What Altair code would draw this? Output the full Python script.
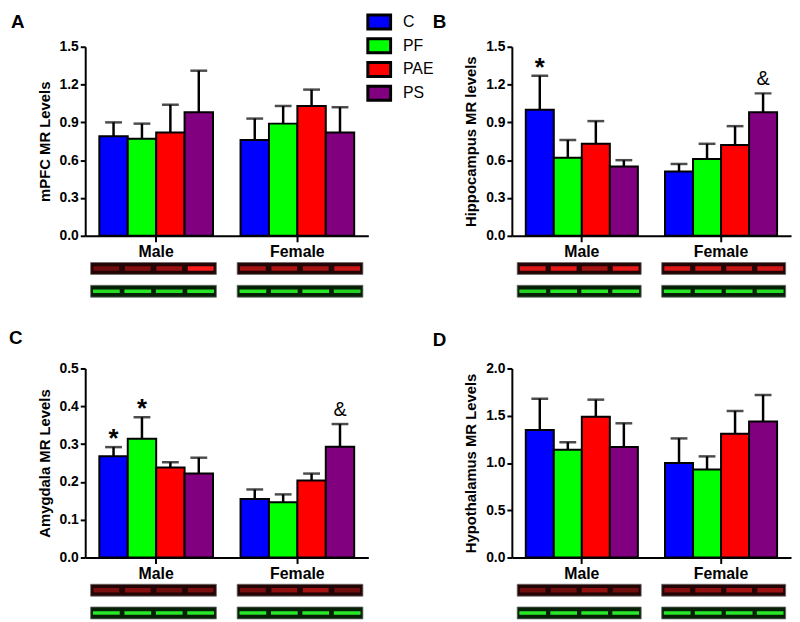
import altair as alt
import pandas as pd

groups = ["C", "PF", "PAE", "PS"]
sexes = ["Male", "Female"]
bar_colors = ["#0000ff", "#00ff00", "#ff0000", "#800080"]
blot_rows = ["MR", "Loading"]
panel_letters = ["A", "B", "C", "D"]

# Panel A: mPFC
a_male = [0.79, 0.77, 0.82, 0.98]
a_male_sem = [0.11, 0.12, 0.22, 0.33]
a_female = [0.76, 0.89, 1.03, 0.82]
a_female_sem = [0.17, 0.14, 0.13, 0.20]
a_marks_male = ["", "", "", ""]
a_marks_female = ["", "", "", ""]
a_ticks = [0.0, 0.3, 0.6, 0.9, 1.2, 1.5]

# Panel B: Hippocampus
b_male = [1.00, 0.62, 0.73, 0.55]
b_male_sem = [0.27, 0.14, 0.18, 0.05]
b_female = [0.51, 0.61, 0.72, 0.98]
b_female_sem = [0.06, 0.12, 0.15, 0.15]
b_marks_male = ["*", "", "", ""]
b_marks_female = ["", "", "", "&"]
b_ticks = [0.0, 0.3, 0.6, 0.9, 1.2, 1.5]

# Panel C: Amygdala
c_male = [0.268, 0.314, 0.238, 0.222]
c_male_sem = [0.024, 0.057, 0.014, 0.042]
c_female = [0.155, 0.146, 0.204, 0.293]
c_female_sem = [0.025, 0.021, 0.018, 0.060]
c_marks_male = ["*", "*", "", ""]
c_marks_female = ["", "", "", "&"]
c_ticks = [0.0, 0.1, 0.2, 0.3, 0.4, 0.5]

# Panel D: Hypothalamus
d_male = [1.35, 1.14, 1.49, 1.17]
d_male_sem = [0.33, 0.08, 0.18, 0.25]
d_female = [1.00, 0.93, 1.31, 1.44]
d_female_sem = [0.26, 0.14, 0.24, 0.28]
d_marks_male = ["", "", "", ""]
d_marks_female = ["", "", "", ""]
d_ticks = [0.0, 0.5, 1.0, 1.5, 2.0]

# Western blot band intensities (MR row, loading-control row)
a_mr_male = [0.35, 0.45, 0.55, 1.0]
a_mr_female = [0.6, 0.65, 0.6, 0.75]
a_ld_male = [0.85, 0.9, 0.85, 0.9]
a_ld_female = [0.9, 0.85, 0.9, 0.8]
b_mr_male = [0.85, 0.9, 0.6, 0.9]
b_mr_female = [0.85, 0.8, 0.75, 0.8]
b_ld_male = [0.8, 0.9, 0.9, 0.9]
b_ld_female = [0.9, 0.9, 0.9, 0.85]
c_mr_male = [0.4, 0.45, 0.35, 0.4]
c_mr_female = [0.4, 0.5, 0.6, 0.35]
c_ld_male = [0.9, 0.9, 0.9, 0.9]
c_ld_female = [0.9, 0.9, 0.9, 0.9]
d_mr_male = [0.35, 0.35, 0.5, 0.35]
d_mr_female = [0.45, 0.5, 0.6, 0.55]
d_ld_male = [0.9, 0.9, 0.9, 0.9]
d_ld_female = [0.9, 0.9, 0.9, 0.9]

FONT = "Arial"


def bar_panel(male, male_sem, female, female_sem, marks_m, marks_f, ticks,
              ytitle, letter, letter_dx, letter_dy, width, legend=None):
    df = pd.DataFrame({
        "sex": ["Male"] * 4 + ["Female"] * 4,
        "group": groups * 2,
        "mean": male + female,
        "upper": [m + s for m, s in zip(male, male_sem)] + [m + s for m, s in zip(female, female_sem)],
        "mark": marks_m + marks_f,
    })
    x = alt.X("sex:N", sort=sexes,
              scale=alt.Scale(domain=sexes, paddingInner=0.195, paddingOuter=0.1),
              axis=alt.Axis(title=None, labelAngle=0, labelFontSize=16, labelFontWeight="bold",
                            labelColor="black", labelFont=FONT, domainColor="black", domainWidth=2,
                            tickColor="black", tickWidth=2, tickSize=6, labelPadding=2))
    xo = alt.XOffset("group:N", sort=groups,
                     scale=alt.Scale(domain=groups, paddingInner=0, paddingOuter=0))
    yaxis = alt.Axis(title=ytitle, values=ticks, format=".1f", grid=False,
                     labelFontSize=14, labelFontWeight="bold", labelColor="black", labelFont=FONT,
                     titleFontSize=15, titleFontWeight="bold", titleColor="black", titleFont=FONT,
                     titlePadding=7, domainColor="black", domainWidth=2, tickColor="black",
                     tickWidth=2, tickSize=5, labelPadding=2)
    yscale = alt.Scale(domain=[ticks[0], ticks[-1]], nice=False)
    color = alt.Color("group:N", sort=groups, scale=alt.Scale(domain=groups, range=bar_colors),
                      legend=legend)
    base = alt.Chart(df)
    bars = base.mark_bar(stroke="black", strokeWidth=2).encode(
        x=x, xOffset=xo, y=alt.Y("mean:Q", scale=yscale, axis=yaxis), color=color)
    err = base.mark_rule(color="black", strokeWidth=2.5).encode(
        x=x, xOffset=xo, y=alt.Y("mean:Q", scale=yscale, axis=yaxis), y2="upper:Q")
    cap = base.mark_tick(color="black", orient="horizontal", size=17, thickness=2.5).encode(
        x=x, xOffset=xo, y=alt.Y("upper:Q", scale=yscale, axis=yaxis))
    star = base.transform_filter(alt.datum.mark == "*").mark_text(
        fontSize=26, fontWeight="bold", baseline="alphabetic", dy=0, font=FONT, color="black").encode(
        x=x, xOffset=xo, y=alt.Y("upper:Q", scale=yscale, axis=yaxis), text="mark:N")
    amp = base.transform_filter(alt.datum.mark == "&").mark_text(
        fontSize=20, baseline="alphabetic", dy=-8, font=FONT, color="black").encode(
        x=x, xOffset=xo, y=alt.Y("upper:Q", scale=yscale, axis=yaxis), text="mark:N")
    lab = alt.Chart(pd.DataFrame({"letter": [letter]})).mark_text(
        fontSize=19, fontWeight="bold", font=FONT, color="black", align="left",
        baseline="alphabetic").encode(
        x=alt.value(letter_dx), y=alt.value(letter_dy), text="letter:N")
    return alt.layer(bars, err, cap, star, amp, lab).properties(width=width, height=191)


def blot_panel(mr_male, mr_female, ld_male, ld_female, width, height):
    bg = pd.DataFrame({
        "sex": ["Male", "Male", "Female", "Female"],
        "row": blot_rows * 2,
    })
    bands = pd.DataFrame({
        "sex": (["Male"] * 4 + ["Female"] * 4) * 2,
        "group": groups * 4,
        "row": ["MR"] * 8 + ["Loading"] * 8,
        "intensity": mr_male + mr_female + ld_male + ld_female,
    })
    x = alt.X("sex:N", sort=sexes,
              scale=alt.Scale(domain=sexes, paddingInner=0.142, paddingOuter=0.037), axis=None)
    y = alt.Y("row:N", sort=blot_rows,
              scale=alt.Scale(domain=blot_rows, range=[0, 35], paddingInner=0.478, paddingOuter=0),
              axis=None)
    xo = alt.XOffset("group:N", sort=groups,
                     scale=alt.Scale(domain=groups, paddingInner=0, paddingOuter=0))
    back = alt.Chart(bg).mark_rect(stroke="#6a6a6a", strokeWidth=0.8).encode(
        x=x, y=y,
        color=alt.Color("row:N", scale=alt.Scale(domain=blot_rows, range=["#240505", "#062006"]),
                        legend=None))
    op = alt.Opacity("intensity:Q", scale=alt.Scale(domain=[0, 1], range=[0, 1]), legend=None)
    mr = alt.Chart(bands).transform_filter(alt.datum.row == "MR").mark_tick(
        orient="horizontal", size=26, thickness=4.5, color="#ff1c1c").encode(
        x=x, xOffset=xo, y=y, opacity=op)
    ld = alt.Chart(bands).transform_filter(alt.datum.row == "Loading").mark_tick(
        orient="horizontal", size=27, thickness=3.5, color="#2cff2c").encode(
        x=x, xOffset=xo, y=y, opacity=op)
    return alt.layer(back, mr, ld).properties(width=width, height=height)


legend = alt.Legend(title=None, orient="none", legendX=287, legendY=-35,
                    symbolType="M-1.4,-0.87H1.4V0.87H-1.4Z", symbolSize=270,
                    symbolStrokeColor="black", symbolStrokeWidth=3, symbolOpacity=1,
                    labelFontSize=16, labelFont=FONT, labelColor="black",
                    labelOffset=14, rowPadding=-5, padding=0)

LW, RW = 286, 282

pa = bar_panel(a_male, a_male_sem, a_female, a_female_sem, a_marks_male, a_marks_female, a_ticks,
               "mPFC MR Levels", panel_letters[0], -75, -19, LW, legend)
pb = bar_panel(b_male, b_male_sem, b_female, b_female_sem, b_marks_male, b_marks_female, b_ticks,
               "Hippocampus MR levels", panel_letters[1], -80, -19, RW)
pc = bar_panel(c_male, c_male_sem, c_female, c_female_sem, c_marks_male, c_marks_female, c_ticks,
               "Amygdala MR Levels", panel_letters[2], -77, -25, LW)
pd_ = bar_panel(d_male, d_male_sem, d_female, d_female_sem, d_marks_male, d_marks_female, d_ticks,
                "Hypothalamus MR Levels", panel_letters[3], -80, -23, RW)

ba = blot_panel(a_mr_male, a_mr_female, a_ld_male, a_ld_female, LW, 80)
bb = blot_panel(b_mr_male, b_mr_female, b_ld_male, b_ld_female, RW, 80)
bc = blot_panel(c_mr_male, c_mr_female, c_ld_male, c_ld_female, LW, 35)
bd = blot_panel(d_mr_male, d_mr_female, d_ld_male, d_ld_female, RW, 35)

chart = alt.concat(pa, pb, ba, bb, pc, pd_, bc, bd, columns=2,
                   spacing={"row": 27, "column": 145}, bounds="flush").resolve_scale(
    color="independent", xOffset="independent", opacity="independent"
).properties(padding=0).configure_view(stroke="transparent")

chart.save("out.html", embed_options={"renderer": "svg", "actions": False})
